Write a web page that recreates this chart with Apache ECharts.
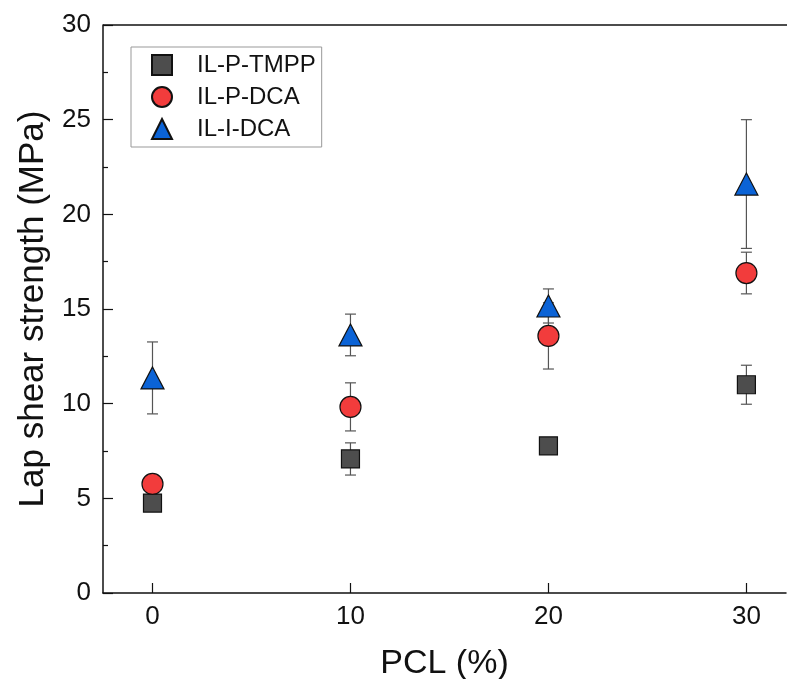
<!DOCTYPE html>
<html>
<head>
<meta charset="utf-8">
<script src="https://cdn.jsdelivr.net/npm/echarts@6/dist/echarts.min.js"></script>
<style>
  html, body { margin: 0; padding: 0; background: #fff; }
  #chart { width: 787px; height: 679px; }
</style>
</head>
<body>
<div id="chart"></div>
<script>
// PCL content (%)
var pcl = [0, 10, 20, 30];

// lap shear strength (MPa) and error (MPa)
var tmppMean = [4.75, 7.08, 7.77, 11.0];
var tmppErr = [0.3, 0.85, 0.3, 1.03];
var pDcaMean = [5.76, 9.83, 13.58, 16.9];
var pDcaErr = [0.4, 1.27, 1.75, 1.1];
var iDcaMean = [11.36, 13.63, 15.16, 21.6];
var iDcaErr = [1.9, 1.1, 0.9, 3.4];

var seriesNames = ['IL-P-TMPP', 'IL-P-DCA', 'IL-I-DCA'];
var xTicks = [0, 10, 20, 30];

var font = 'Liberation Sans, Arial, sans-serif';

function pairs(means) {
  return pcl.map(function(x, i) { return [x, means[i]]; });
}

function errData(means, errs) {
  return pcl.map(function(x, i) { return [x, means[i] - errs[i], means[i] + errs[i]]; });
}

function errorSeries(means, errs) {
  return {
    type: 'custom',
    silent: true,
    z: 1,
    data: errData(means, errs),
    renderItem: function(params, api) {
      var lo = api.coord([api.value(0), api.value(1)]);
      var hi = api.coord([api.value(0), api.value(2)]);
      var w = 5.5;
      var style = { stroke: '#555', lineWidth: 1.2 };
      return {
        type: 'group',
        children: [
          { type: 'line', shape: { x1: lo[0], y1: lo[1], x2: hi[0], y2: hi[1] }, style: style },
          { type: 'line', shape: { x1: lo[0] - w, y1: lo[1], x2: lo[0] + w, y2: lo[1] }, style: style },
          { type: 'line', shape: { x1: hi[0] - w, y1: hi[1], x2: hi[0] + w, y2: hi[1] }, style: style }
        ]
      };
    }
  };
}

var chart = echarts.init(document.getElementById('chart'));

chart.setOption({
  backgroundColor: '#fff',
  animation: false,
  grid: { left: 103, right: 1, top: 25, bottom: 86, outerBoundsMode: 'none', containLabel: false },
  legend: {
    orient: 'vertical',
    left: 131,
    top: 47,
    padding: [6, 6, 6, 20],
    itemWidth: 20,
    itemHeight: 20,
    itemGap: 8,
    borderColor: '#999',
    borderWidth: 1,
    textStyle: { fontFamily: font, fontSize: 24, color: '#111', padding: [0, 0, 0, 20] },
    data: [
      { name: seriesNames[0], icon: 'rect' },
      { name: seriesNames[1], icon: 'circle' },
      { name: seriesNames[2], icon: 'triangle' }
    ]
  },
  xAxis: {
    type: 'value',
    min: -2.5,
    max: 32,
    name: 'PCL (%)',
    nameLocation: 'middle',
    nameGap: 54,
    nameTextStyle: { fontFamily: font, fontSize: 34, color: '#111' },
    splitLine: { show: false },
    axisLine: { show: true, onZero: false, lineStyle: { color: '#111', width: 1.5 } },
    axisTick: { show: true, inside: true, length: 10, customValues: xTicks, lineStyle: { color: '#111', width: 1.2 } },
    axisLabel: { customValues: xTicks, margin: 11, fontFamily: font, fontSize: 26, color: '#111' }
  },
  yAxis: {
    type: 'value',
    min: 0,
    max: 30,
    interval: 5,
    name: 'Lap shear strength (MPa)',
    nameLocation: 'middle',
    nameGap: 52,
    nameTextStyle: { fontFamily: font, fontSize: 35, color: '#111' },
    splitLine: { show: false },
    axisLine: { show: true, onZero: false, lineStyle: { color: '#111', width: 1.5 } },
    axisTick: { show: true, inside: true, length: 10, lineStyle: { color: '#111', width: 1.2 } },
    minorTick: { show: true, splitNumber: 2, length: 5, lineStyle: { color: '#111', width: 1.2 } },
    axisLabel: { margin: 12, fontFamily: font, fontSize: 26, color: '#111' }
  },
  graphic: [{
    type: 'line',
    shape: { x1: 103, y1: 25, x2: 787, y2: 25 },
    style: { stroke: '#111', lineWidth: 1.5 },
    silent: true
  }],
  series: [
    errorSeries(tmppMean, tmppErr),
    errorSeries(pDcaMean, pDcaErr),
    errorSeries(iDcaMean, iDcaErr),
    {
      name: seriesNames[0],
      type: 'scatter',
      z: 3,
      symbol: 'rect',
      symbolSize: 18,
      itemStyle: { color: '#4d4d4d', borderColor: '#111', borderWidth: 1.2, opacity: 1 },
      data: pairs(tmppMean)
    },
    {
      name: seriesNames[1],
      type: 'scatter',
      z: 3,
      symbol: 'circle',
      symbolSize: 21,
      itemStyle: { color: '#f23c3c', borderColor: '#111', borderWidth: 1.2, opacity: 1 },
      data: pairs(pDcaMean)
    },
    {
      name: seriesNames[2],
      type: 'scatter',
      z: 3,
      symbol: 'triangle',
      symbolSize: [23, 22],
      itemStyle: { color: '#0b63d6', borderColor: '#111', borderWidth: 1.2, opacity: 1 },
      data: pairs(iDcaMean)
    }
  ]
});
</script>
</body>
</html>
